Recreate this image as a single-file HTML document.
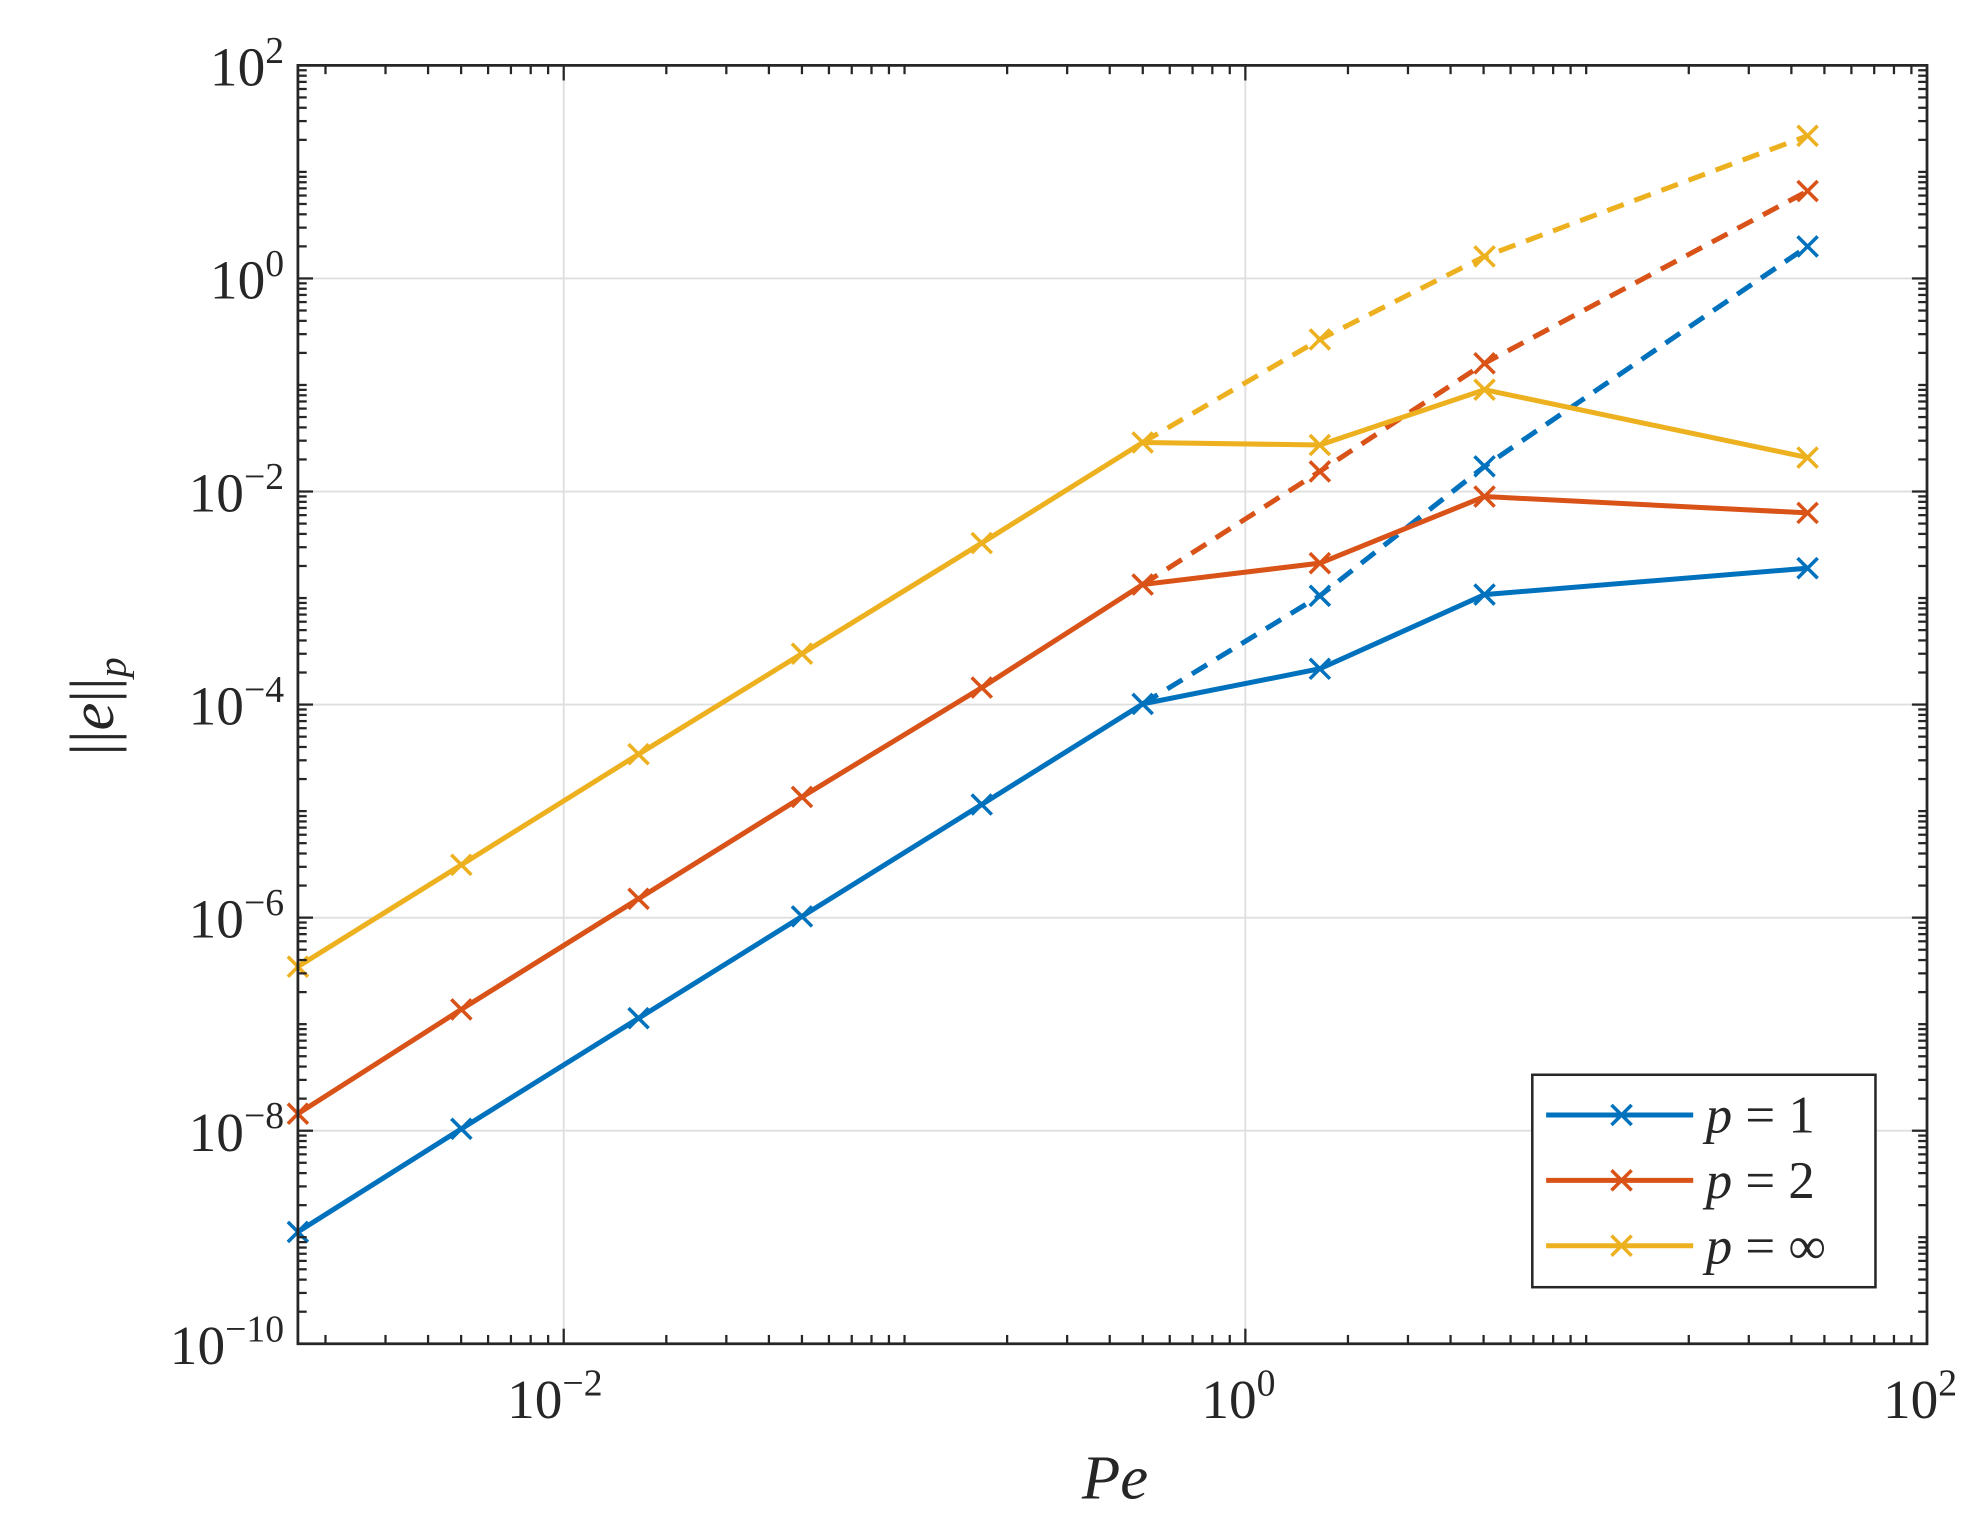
<!DOCTYPE html>
<html><head><meta charset="utf-8"><style>
html,body{margin:0;padding:0;background:#fff;}
svg{display:block;}
text{font-family:"Liberation Serif","DejaVu Serif",serif;fill:#262626;}
</style></head><body>
<svg id="s" width="1971" height="1516" viewBox="0 0 1568 1206" xmlns="http://www.w3.org/2000/svg" font-family="Liberation Serif, serif">
<rect width="1568" height="1206" fill="#fff"/>
<g id="grid"></g>
<g id="series"></g>
<g id="axes"></g>
<g id="labels"></g>
<rect x="1219" y="855" width="273" height="169" fill="#fff" stroke="#262626" stroke-width="2"/>
<g stroke-width="4" fill="none">
<line x1="1230" y1="887" x2="1347" y2="887" stroke="#0072BD"/>
<line x1="1230" y1="939" x2="1347" y2="939" stroke="#D95319"/>
<line x1="1230" y1="991" x2="1347" y2="991" stroke="#EDB120"/>
</g>
<g stroke-width="2.8">
<path d="M1282,879 l16,16 M1298,879 l-16,16" stroke="#0072BD"/>
<path d="M1282,931 l16,16 M1298,931 l-16,16" stroke="#D95319"/>
<path d="M1282,983 l16,16 M1298,983 l-16,16" stroke="#EDB120"/>
</g>
<g font-size="42" fill="#000">
<text x="1357" y="901" fill="#000"><tspan font-style="italic">p</tspan> = 1</text>
<text x="1357" y="953" fill="#000"><tspan font-style="italic">p</tspan> = 2</text>
<text x="1357" y="1005" fill="#000"><tspan font-style="italic">p</tspan> = ∞</text>
</g>
<text x="887" y="1192" font-size="50" font-style="italic" text-anchor="middle">Pe</text>
<text transform="translate(90,562) rotate(-90)" font-size="50" text-anchor="middle">||<tspan font-style="italic">e</tspan>||<tspan font-style="italic" font-size="32" dy="10">p</tspan></text>
</svg>
<script>
const NS="http://www.w3.org/2000/svg";
const X0=237,X1=1533,Y0=52,Y1=1069;
const xmin=Math.log10(0.00166),xmax=2,ymin=-10,ymax=2;
const fx=l=>X0+(l-xmin)/(xmax-xmin)*(X1-X0);
const fy=l=>Y1-(l-ymin)/(ymax-ymin)*(Y1-Y0);
function el(p,t,a){const e=document.createElementNS(NS,t);for(const k in a)e.setAttribute(k,a[k]);p.appendChild(e);return e;}
const G=document.getElementById('grid'),A=document.getElementById('axes'),L=document.getElementById('labels'),S=document.getElementById('series');
for(const d of [-2,0]) el(G,'line',{x1:fx(d),x2:fx(d),y1:Y0,y2:Y1,stroke:'#dfdfdf','stroke-width':1.5});
for(let d=-8;d<=0;d+=2) el(G,'line',{x1:X0,x2:X1,y1:fy(d),y2:fy(d),stroke:'#dfdfdf','stroke-width':1.5});
const tk={stroke:'#262626','stroke-width':1.8};
for(let d=-3;d<=1;d++)for(let m=1;m<=9;m++){const l=d+Math.log10(m);if(l<xmin-1e-9||l>xmax)continue;const x=fx(l);const len=(m==1&&d%2==0)?12:7;
el(A,'line',Object.assign({x1:x,x2:x,y1:Y1,y2:Y1-len},tk));el(A,'line',Object.assign({x1:x,x2:x,y1:Y0,y2:Y0+len},tk));}
for(let d=-10;d<=1;d++)for(let m=1;m<=9;m++){const l=d+Math.log10(m);if(l>ymax)continue;const y=fy(l);const len=(m==1&&d%2==0)?12:7;
el(A,'line',Object.assign({x1:X0,x2:X0+len,y1:y,y2:y},tk));el(A,'line',Object.assign({x1:X1,x2:X1-len,y1:y,y2:y},tk));}
el(A,'rect',{x:X0,y:Y0,width:X1-X0,height:Y1-Y0,fill:'none',stroke:'#262626','stroke-width':2.2});
function lab(x,y,e,anchor){const t=el(L,'text',{x:x,y:y,'font-size':44,'text-anchor':anchor});t.textContent='10';
const s=el(t,'tspan',{dy:-18,'font-size':30});s.textContent=e;}
for(let d=-10;d<=2;d+=2) lab(226,fy(d)+16,d<0?'−'+(-d):''+d,'end');
for(const d of [-2,0,2]) lab(fx(d)-(d<0?45:35),1128,d<0?'−2':''+d,'start');
const xs=[237,367,508,638,781,909,1050,1181,1438];
const data=[
 ['#0072BD',[980,898,810,729,640,560,532,473,452],[560,474,371,196]],
 ['#D95319',[886,803,715,634,547,465,448,395,408],[465,375,289,152]],
 ['#EDB120',[769,688,600,520,432,352,354,310,364],[352,270,204,108]]];
const dx=[909,1050,1181,1438];
for(const [c,ys,ds] of data){
 el(S,'polyline',{points:dx.map((x,i)=>x+','+ds[i]).join(' '),fill:'none',stroke:c,'stroke-width':4,'stroke-dasharray':'14,9'});
 el(S,'polyline',{points:xs.map((x,i)=>x+','+ys[i]).join(' '),fill:'none',stroke:c,'stroke-width':4});
 const pts=xs.map((x,i)=>[x,ys[i]]).concat(dx.slice(1).map((x,i)=>[x,ds[i+1]]));
 for(const [x,y] of pts) el(S,'path',{d:`M${x-8},${y-8} l16,16 M${x+8},${y-8} l-16,16`,stroke:c,'stroke-width':2.8});
}
</script>
</body></html>
